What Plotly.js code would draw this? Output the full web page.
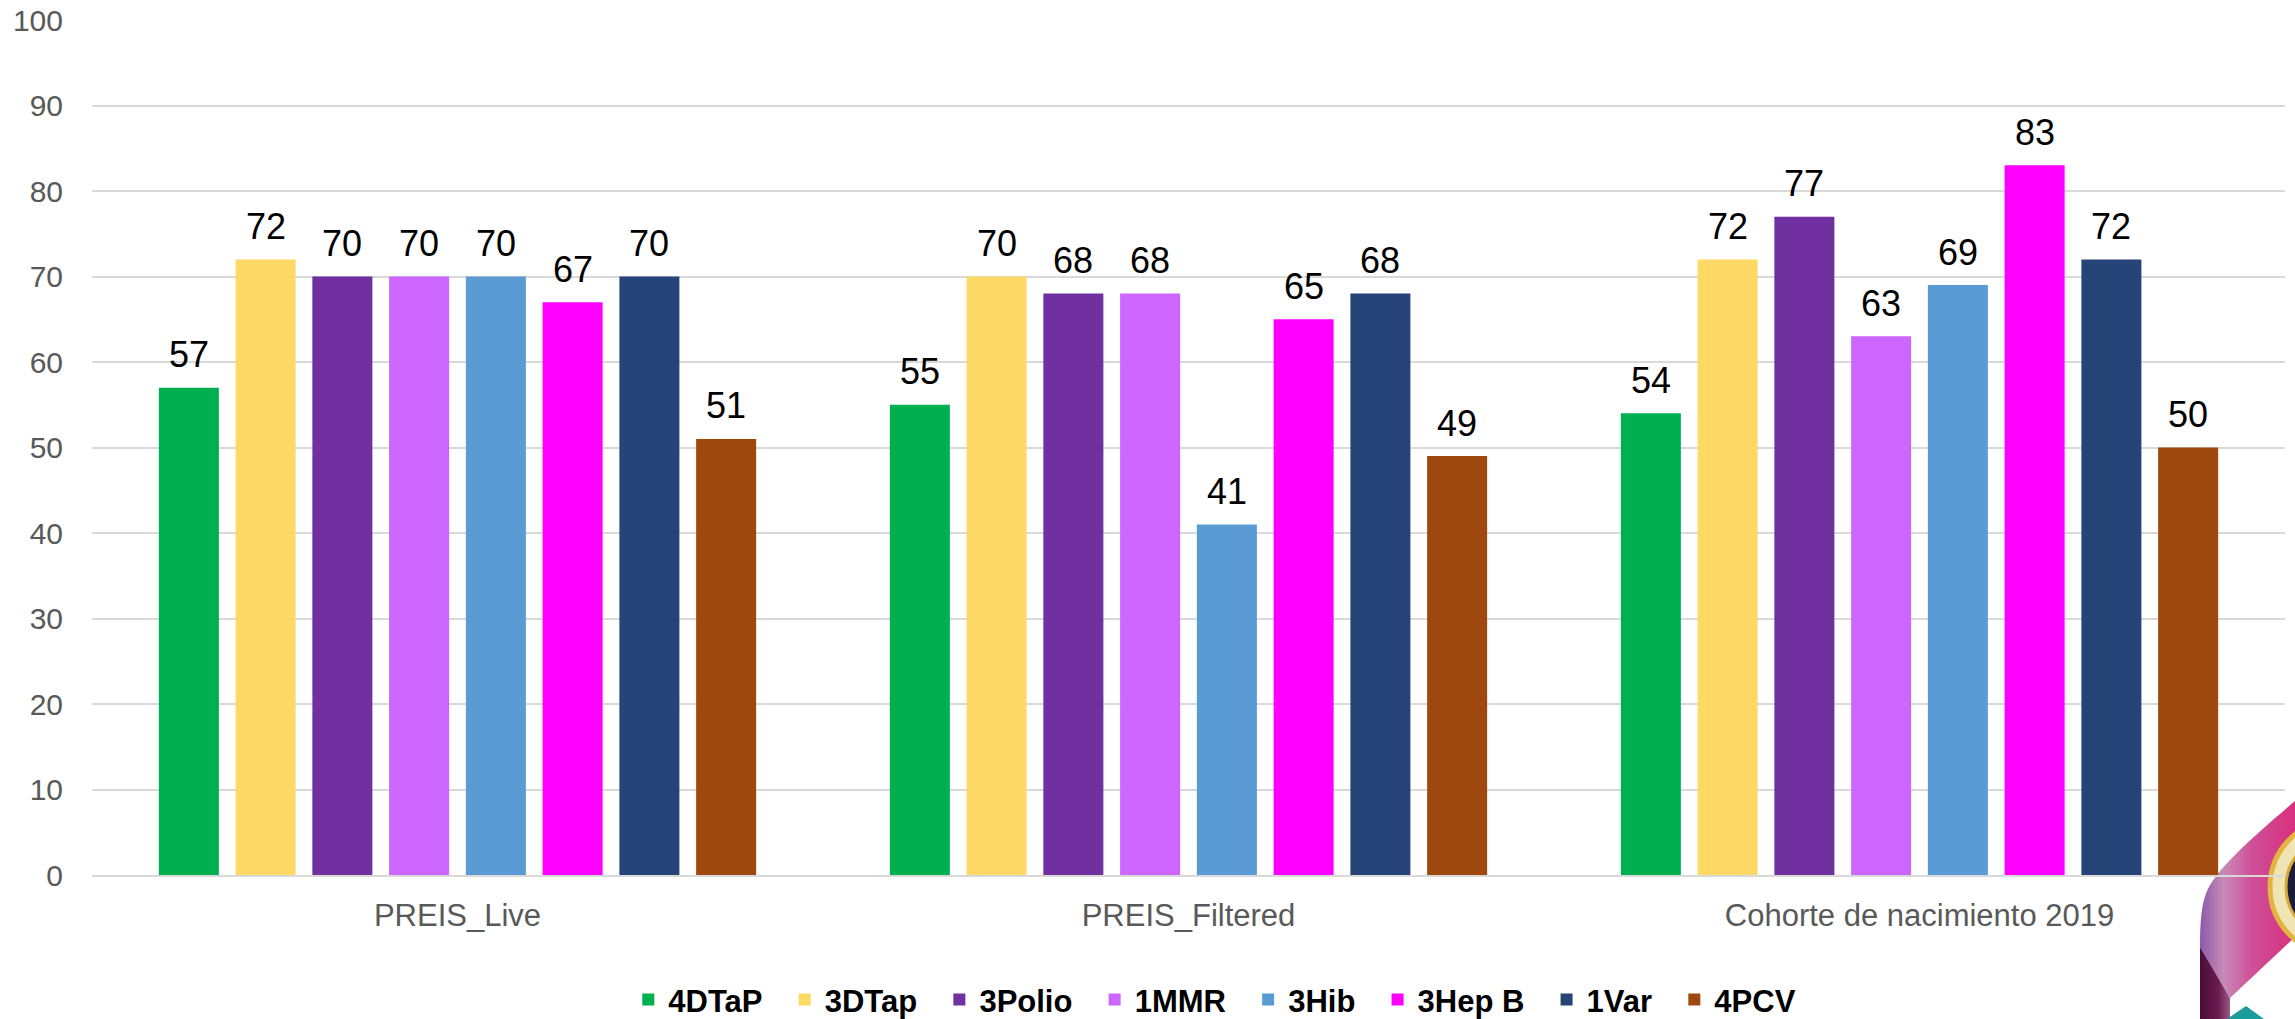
<!DOCTYPE html>
<html>
<head>
<meta charset="utf-8">
<script src="https://cdn.plot.ly/plotly-3.0.1.min.js"></script>
<style>
html,body{margin:0;padding:0;background:#fff;overflow:hidden;}
#chart{width:2295px;height:1019px;position:absolute;left:0;top:0;z-index:2;}
#logo{position:absolute;left:2190px;top:795px;width:105px;height:224px;z-index:1;pointer-events:none;}
</style>
</head>
<body>
<svg id="logo" viewBox="0 0 105 224" xmlns="http://www.w3.org/2000/svg">
  <defs>
    <linearGradient id="rib" x1="0" y1="0" x2="1" y2="0">
      <stop offset="0" stop-color="#8a5aa8"/>
      <stop offset="0.25" stop-color="#c88ab8"/>
      <stop offset="0.55" stop-color="#cf4f98"/>
      <stop offset="1" stop-color="#d8307e"/>
    </linearGradient>
    <linearGradient id="dark" x1="0" y1="0" x2="1" y2="0">
      <stop offset="0" stop-color="#4a0d38"/>
      <stop offset="0.6" stop-color="#6a1a50"/>
      <stop offset="1" stop-color="#9a5a88"/>
    </linearGradient>
  </defs>
  <path d="M10,152 C10,122 12,104 20,90 C32,70 60,44 105,6 L105,142 L40,203 Z" fill="url(#rib)"/>
  <path d="M10,152 L40,203 L40,224 L10,224 Z" fill="url(#dark)"/>
  <path d="M37,224 L56,211 L74,224 Z" fill="#1a9c9a"/>
  <circle cx="148" cy="92" r="68" fill="#f1e4b4" stroke="#e2b440" stroke-width="5"/>
  <circle cx="148" cy="92" r="52" fill="#1a1a3a" stroke="#d8a838" stroke-width="3"/>
</svg>
<div id="chart"></div>
<script>
const categories = ["PREIS_Live", "PREIS_Filtered", "Cohorte de nacimiento 2019"];
const seriesNames = ["4DTaP", "3DTap", "3Polio", "1MMR", "3Hib", "3Hep B", "1Var", "4PCV"];
const seriesColors = ["#00B050", "#FFD966", "#7030A0", "#CC66FF", "#5B9BD5", "#FF00FF", "#264478", "#9E480E"];
const v4DTaP  = [57, 55, 54];
const v3DTap  = [72, 70, 72];
const v3Polio = [70, 68, 77];
const v1MMR   = [70, 68, 63];
const v3Hib   = [70, 41, 69];
const v3HepB  = [67, 65, 83];
const v1Var   = [70, 68, 72];
const v4PCV   = [51, 49, 50];
const seriesValues = [v4DTaP, v3DTap, v3Polio, v1MMR, v3Hib, v3HepB, v1Var, v4PCV];
const yTicks = [0, 10, 20, 30, 40, 50, 60, 70, 80, 90, 100];

const FONT = '"Liberation Sans", Arial, sans-serif';

const W = 2295, H = 1019;
const margin = {l: 92, r: 10, t: 20, b: 144, autoexpand: false};
const bargap = 0.16;
const nSeries = seriesNames.length;
const catPx = (W - margin.l - margin.r) / categories.length;
const slotPx = catPx * (1 - bargap) / nSeries;

const traces = seriesNames.map((name, i) => ({
  type: 'bar',
  name: i < nSeries - 1 ? name + '\u00a0\u00a0' : name,
  x: categories,
  y: seriesValues[i],
  marker: {color: seriesColors[i]},
  hoverinfo: 'x+y'
}));

const annotations = [];
seriesValues.forEach((vals, i) => {
  vals.forEach((v, j) => {
    annotations.push({
      x: categories[j],
      y: v,
      xref: 'x',
      yref: 'y',
      text: String(v),
      showarrow: false,
      xanchor: 'center',
      yanchor: 'middle',
      xshift: (i - (nSeries - 1) / 2) * slotPx,
      yshift: 33,
      font: {family: FONT, size: 36, color: '#000000'}
    });
  });
});

const layout = {
  width: W,
  height: H,
  margin: margin,
  paper_bgcolor: 'rgba(0,0,0,0)',
  plot_bgcolor: 'rgba(0,0,0,0)',
  barmode: 'group',
  bargap: bargap,
  bargroupgap: 0.218,
  font: {family: FONT},
  annotations: annotations,
  xaxis: {
    type: 'category',
    automargin: false,
    showgrid: false,
    showline: true,
    linecolor: '#d9d9d9',
    linewidth: 2,
    ticks: '',
    tickfont: {family: FONT, size: 31, color: '#595959'},
    ticklabelstandoff: 12
  },
  yaxis: {
    range: [0, 100],
    automargin: false,
    tickvals: yTicks,
    ticktext: yTicks.map(String),
    showgrid: true,
    gridcolor: '#d9d9d9',
    gridwidth: 2,
    zeroline: false,
    showline: false,
    ticks: '',
    tickfont: {family: FONT, size: 30, color: '#595959'},
    ticklabelstandoff: 28
  },
  showlegend: true,
  legend: {
    orientation: 'h',
    x: 0.512,
    xanchor: 'center',
    y: -0.146,
    yanchor: 'middle',
    font: {family: FONT, size: 31, color: '#000000', weight: 'bold'},
    traceorder: 'normal',
    itemwidth: 30
  }
};

Plotly.newPlot('chart', traces, layout, {displayModeBar: false, staticPlot: true});
</script>
</body>
</html>
